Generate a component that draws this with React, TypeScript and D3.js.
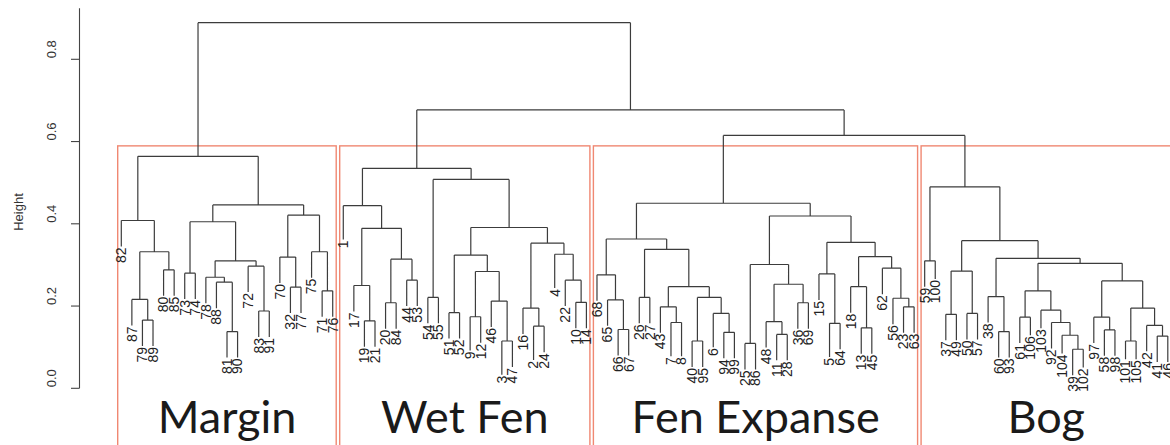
import React from "react";
import * as d3 from "d3";

// Sub-trees of each cluster: "(a,b)h" = merge of a and b at height h; leaves are site labels
const MARGIN =
  "((82,((87,(79,89)0.166)0.216,(80,85)0.288)0.332)0.408,(((73,74)0.280,((78,(88,(81,90)0.138)0.258)0.270,(72,(83,91)0.188)0.297)0.310)0.405,((70,(32,77)0.246)0.319,(75,(71,76)0.237)0.332)0.421)0.446)0.564";
const WET_FEN =
  "((1,((17,(19,21)0.164)0.250,((20,84)0.208,(44,53)0.263)0.314)0.389)0.444,((54,55)0.221,(((51,52)0.184,((9,12)0.174,(46,(3,47)0.115)0.212)0.284)0.324,((16,(2,24)0.151)0.195,(4,(22,(10,14)0.209)0.263)0.326)0.353)0.391)0.508)0.535";
const FEN_EXPANSE =
  "(((68,(65,(66,67)0.143)0.215)0.276,((26,27)0.221,((43,(7,8)0.160)0.198,((40,95)0.115,(6,(94,99)0.136)0.182)0.221)0.247)0.338)0.363,(((25,86)0.109,((48,(11,28)0.131)0.162,(36,69)0.208)0.253)0.301,((15,(5,64)0.158)0.278,((18,(13,45)0.147)0.247,(62,(56,(23,63)0.198)0.219)0.292)0.320)0.355)0.419)0.450";
const BOG =
  "((59,100)0.310,(((37,49)0.180,(50,57)0.182)0.285,((38,(60,93)0.138)0.223,(((61,106)0.173,(103,(92,(104,(39,102)0.095)0.129)0.160)0.190)0.237,((97,(58,98)0.142)0.173,((101,105)0.115,(42,(41,46)0.127)0.153)0.195)0.261)0.304)0.316)0.359)0.490";

// Upper merges joining the clusters
const TOP_HEIGHTS = [0.889, 0.677, 0.615];
const CLUSTER_NAMES = ["Margin", "Wet Fen", "Fen Expanse", "Bog"];
const Y_TICKS = [0, 0.2, 0.4, 0.6, 0.8];

const TREE = `(${MARGIN},(${WET_FEN},(${FEN_EXPANSE},${BOG})${TOP_HEIGHTS[2]})${TOP_HEIGHTS[1]})${TOP_HEIGHTS[0]}`;

type TNode = { name?: string; height: number; children?: TNode[] };

function parseTree(s: string): TNode {
  let i = 0;
  function node(): TNode {
    if (s[i] === "(") {
      i++;
      const children = [node()];
      while (s[i] === ",") {
        i++;
        children.push(node());
      }
      i++; // ')'
      const j = i;
      while (i < s.length && /[0-9.]/.test(s[i])) i++;
      return { children, height: parseFloat(s.slice(j, i)) };
    }
    const j = i;
    while (i < s.length && !/[,()]/.test(s[i])) i++;
    return { name: s.slice(j, i), height: 0 };
  }
  return node();
}

const W = 1170;
const H = 445;
const LABEL_FONT = 14;
const DIGIT_W = LABEL_FONT * 0.556;
const LABEL_DROP = 42.5;

export default function App() {
  const root: any = d3.hierarchy(parseTree(TREE));
  const leaves: any[] = root.leaves();
  const x = d3.scaleLinear().domain([0, leaves.length - 1]).range([121.3, 1167.8]);
  const y = d3.scaleLinear().domain([0, 0.8]).range([388.3, 59.3]);

  leaves.forEach((l, i) => {
    l.px = x(i);
    l.idx = i;
  });
  root.eachAfter((n: any) => {
    if (n.children) n.px = d3.mean(n.children, (c: any) => c.px);
  });

  const labelLen = (name: string) => name.length * DIGIT_W;
  const leafEnd = (l: any) => y(l.parent.data.height) + LABEL_DROP - labelLen(l.data.name) - 1;

  const p = d3.path();
  root.each((n: any) => {
    if (!n.children) return;
    const yn = y(n.data.height);
    const xs = n.children.map((c: any) => c.px);
    p.moveTo(Math.min(...xs), yn);
    p.lineTo(Math.max(...xs), yn);
    n.children.forEach((c: any) => {
      const yc = c.children ? y(c.data.height) : leafEnd(c);
      p.moveTo(c.px, yn);
      p.lineTo(c.px, yc);
    });
  });

  // clusters: the four groups at the cut
  const clusterNodes = [
    root.children[0],
    root.children[1].children[0],
    root.children[1].children[1].children[0],
    root.children[1].children[1].children[1],
  ];
  const cutH = (TOP_HEIGHTS[2] + clusterNodes[0].data.height) / 2;
  const rects = clusterNodes.map((c: any, k: number) => {
    const ls = c.leaves();
    const i0 = ls[0].idx;
    const i1 = ls[ls.length - 1].idx;
    return {
      name: CLUSTER_NAMES[k],
      x0: x(i0 - 0.34),
      x1: x(i1 + 0.33),
      cx: (x(i0) + x(i1)) / 2,
    };
  });

  const axisX = 79.5;

  return (
    <svg
      width={W}
      height={H}
      style={{ position: "absolute", left: 0, top: 0, background: "#fff" }}
      fontFamily="'Liberation Sans', Arial, sans-serif"
    >
      <rect x={0} y={0} width={W} height={H} fill="#fff" />
      {/* cluster rectangles */}
      {rects.map((r) => (
        <rect
          key={r.name}
          x={r.x0}
          y={y(cutH)}
          width={r.x1 - r.x0}
          height={H + 10 - y(cutH)}
          fill="none"
          stroke="#f08872"
          strokeWidth={1.4}
        />
      ))}
      {/* dendrogram */}
      <path d={p.toString()} fill="none" stroke="#3c3c3c" strokeWidth={1.2} />
      {/* leaf labels */}
      {leaves.map((l: any) => (
        <text
          key={l.idx}
          transform={`translate(${l.px},${y(l.parent.data.height) + LABEL_DROP}) rotate(-90)`}
          dy="0.35em"
          textAnchor="start"
          fontSize={LABEL_FONT}
          fill="#222"
        >
          {l.data.name}
        </text>
      ))}
      {/* y axis */}
      <line x1={axisX} x2={axisX} y1={y(0)} y2={y(0.924)} stroke="#444" strokeWidth={1.1} />
      {Y_TICKS.map((t) => (
        <g key={t}>
          <line x1={axisX - 8.5} x2={axisX} y1={y(t)} y2={y(t)} stroke="#444" strokeWidth={1.1} />
          <text
            transform={`translate(55.5,${y(t) - 1}) rotate(-90)`}
            textAnchor="start"
            fontSize={13}
            fill="#333"
          >
            {t.toFixed(1)}
          </text>
        </g>
      ))}
      <text transform="translate(23,212) rotate(-90)" textAnchor="middle" fontSize={13} fill="#333">
        Height
      </text>
      {/* cluster titles */}
      {rects.map((r) => (
        <text
          key={"t" + r.name}
          x={r.cx}
          y={433}
          textAnchor="middle"
          fontFamily="Lato, 'Open Sans', sans-serif"
          fontSize={45}
          fill="#1a1a1a"
        >
          {r.name}
        </text>
      ))}
    </svg>
  );
}
